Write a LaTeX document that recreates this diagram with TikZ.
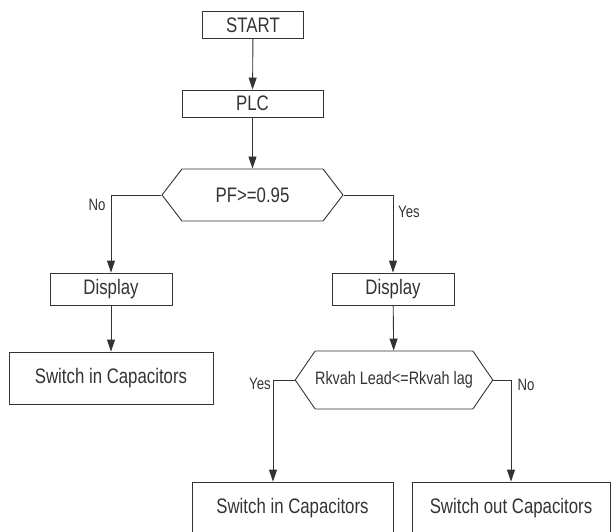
\documentclass[tikz,border=0pt]{standalone}
\usepackage{fontspec}
\setmainfont{Liberation Sans}[FakeStretch=0.8]
\usetikzlibrary{arrows.meta,shapes.symbols}

\begin{document}
\begin{tikzpicture}[
        x=1pt, y=-1pt,
        every node/.style={text=black!80, font=\fontsize{21}{25}\selectfont},
        line/.style={line width=0.9pt, draw=black!80},
        >={Triangle[length=12pt,width=8pt]},
        box/.style={line, rectangle, inner sep=0pt},
        decision/.style={line, signal, signal to=west and east, inner sep=0pt},
        lbl/.style={font=\fontsize{16.5}{19}\selectfont, inner sep=0pt}
    ]
    \useasboundingbox (0,0) rectangle (613,532);

    \node[box, minimum width=101pt, minimum height=27pt] (start) at (253,25) {START};
    \node[box, minimum width=141pt, minimum height=27pt] (plc) at (252.5,103.5) {PLC};
    \node[decision, signal pointer angle=105, minimum width=181pt, minimum height=52pt] (pf) at (252.5,195) {PF>=0.95};
    \node[box, minimum width=122pt, minimum height=32pt] (dispno) at (111,289) {Display};
    \node[box, minimum width=122pt, minimum height=32pt] (dispyes) at (393,289) {Display};
    \node[box, minimum width=204pt, minimum height=52pt] (swin) at (111,378) {Switch in Capacitors};
    \node[decision, signal pointer angle=111, minimum width=188pt, minimum height=58pt,
          font=\fontsize{18}{21}\selectfont] (rk) at (394,380) {Rkvah Lead<=Rkvah lag};
    \node[box, minimum width=201pt, minimum height=52pt] (swin2) at (292.5,508) {Switch in Capacitors};
    \node[box, minimum width=198pt, minimum height=52pt] (swout) at (511,508) {Switch out Capacitors};
    \coordinate (yesturn) at (273,380);

    \node[lbl] (no1) at (97,205) {No};
    \node[lbl] (yes1) at (409,212) {Yes};
    \node[lbl] (yes2) at (260,384) {Yes};
    \node[lbl] (no2) at (526,385) {No};

    \draw[line, ->] (start) -- (plc);
    \draw[line, ->] (plc) -- (pf);
    \draw[line, ->] (pf.west) -| (dispno.north);
    \draw[line, ->] (pf.east) -| (dispyes.north);
    \draw[line, ->] (dispno) -- (swin);
    \draw[line, ->] (dispyes) -- (rk);
    \draw[line, ->] (rk.west) -- (yesturn) -- (yesturn |- swin2.north);
    \draw[line, ->] (rk.east) -| (swout.north);
\end{tikzpicture}
\end{document}
